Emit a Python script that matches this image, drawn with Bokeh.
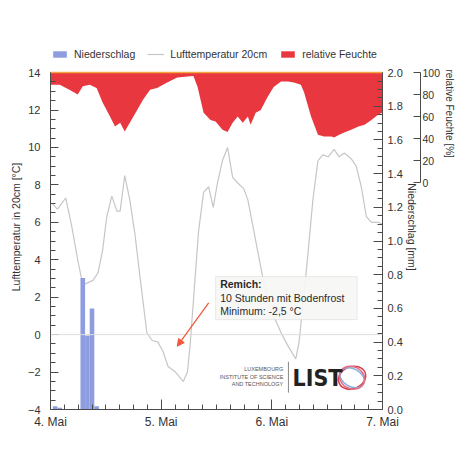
import math
from bokeh.plotting import figure
from bokeh.models import (Range1d, LinearAxis, FixedTicker, Span, Label, BoxAnnotation,
                          Arrow, NormalHead, Legend, LegendItem, PrintfTickFormatter, Title)
from bokeh.embed import file_html
from bokeh.resources import INLINE

# ---------------- data ----------------
# hours since 4. Mai 00:00
temp_hours = [0.4, 1.5, 3.3, 4.6, 5.9, 6.8, 7.4, 9.2, 10.3, 11.3, 12.2, 13.3, 14.4, 15.1, 16.1,
              17.2, 18.3, 19.4, 20.9, 22.0, 23.3, 24.4, 25.5, 27.1, 28.1, 28.8, 29.7, 30.3,
              31.2, 32.1, 33.2, 34.3, 35.3, 36.2, 37.3, 38.4, 39.5, 40.6, 41.9, 42.8, 43.9,
              44.9, 46.0, 47.7, 48.4, 50.0, 51.5, 53.2, 53.9, 55.0, 55.9, 56.9, 58.0, 59.1,
              60.2, 61.5, 62.6, 63.7, 65.2, 66.3, 67.4, 68.5, 69.6, 71.1, 72.0]
temp_values = [7.0, 6.7, 7.3, 5.8, 4.0, 2.9, 2.7, 2.9, 3.3, 4.5, 6.3, 7.4, 6.6, 6.6, 8.5,
               7.2, 5.4, 3.1, 0.1, -0.3, -0.4, -0.9, -1.7, -2.0, -2.3, -2.5, -2.0, -0.5,
               2.5, 5.5, 7.6, 7.9, 6.8, 8.1, 9.3, 10.0, 8.4, 8.1, 7.8, 7.2, 5.8,
               4.5, 3.1, 1.3, 1.0, 0.1, -0.6, -1.3, -0.4, 2.2, 4.5, 7.2, 9.3, 9.6,
               9.5, 9.9, 9.5, 9.7, 9.4, 9.0, 7.9, 6.3, 6.0, 6.0, 5.9]

precip_hours = [1, 2, 7, 8, 9, 10]
precip_mm = [0.02, 0.01, 0.78, 0.44, 0.60, 0.02]

hum_hours = [0.0, 2.0, 4.1, 5.9, 7.0, 8.5, 10.0, 11.3, 12.9, 14.0, 15.1, 16.1, 17.2, 18.8,
             20.1, 21.6, 23.1, 25.3, 27.5, 29.7, 31.0, 31.9, 33.2, 34.7, 35.8, 37.3, 38.4,
             39.5, 40.6, 41.7, 42.8, 43.4, 44.5, 45.6, 47.1, 48.4, 50.0, 51.5, 52.8, 54.3,
             55.0, 56.5, 58.0, 59.3, 60.9, 61.5, 62.6, 63.7, 65.2, 66.8, 68.1, 69.6, 71.1, 72.0]
hum_values = [89, 89, 84.5, 80, 87.5, 89, 86, 72.7, 60, 51, 54.5, 46.4, 54.5, 66,
              75.5, 84.5, 86, 91, 95.5, 96.4, 97, 87, 63.6, 57, 55.5, 48, 46,
              54.5, 60, 54.5, 60, 52.7, 63.6, 66, 78, 87, 92, 92, 91, 89,
              82, 60, 43.6, 42, 42, 41, 43.6, 45.5, 48, 51, 52.7, 57, 62, 63.6]

day_ticks = [0, 24, 48, 72]
day_labels = ["4. Mai", "5. Mai", "6. Mai", "7. Mai"]
temp_ticks = [-4, -2, 0, 2, 4, 6, 8, 10, 12, 14]
rain_ticks = [0.0, 0.2, 0.4, 0.6, 0.8, 1.0, 1.2, 1.4, 1.6, 1.8, 2.0]
hum_ticks = [0, 20, 40, 60, 80, 100]

FONT = "Liberation Sans"
AX = "#4a4a4a"
TXT = "#333333"

# frame extends 1.5 °C above the 14 °C axis top to hold the legend
T_TOP = 15.5
RAIN_TOP = 2.0 * (T_TOP + 4) / 18.0
HUM_PER_T = 100 / 5.88
HUM_BOTTOM = (-4 - 8.12) * HUM_PER_T
HUM_TOP = 100 + (T_TOP - 14) * HUM_PER_T

p = figure(width=462, height=466, x_range=Range1d(0, 72), y_range=Range1d(-4, T_TOP),
           output_backend="svg", toolbar_location=None,
           min_border_left=50, min_border_right=80, min_border_top=44, min_border_bottom=57)
p.extra_y_ranges = {"rain": Range1d(0, RAIN_TOP), "hum": Range1d(HUM_BOTTOM, HUM_TOP)}
p.xgrid.visible = False
p.ygrid.visible = False
p.outline_line_color = None

# glyphs
hum_r = p.varea(x=hum_hours, y1=hum_values, y2=100, y_range_name="hum",
                fill_color="#e9373f")
p.add_layout(Span(location=14, dimension="width", line_color="#f2a640", line_width=1.5))
p.add_layout(Span(location=0, dimension="width", line_color="#dedede", line_width=1))
temp_r = p.line(temp_hours, temp_values, line_color="#c6c6c6", line_width=1.2)
rain_r = p.vbar(x=precip_hours, top=precip_mm, bottom=0, width=1.0, y_range_name="rain",
                fill_color="#8e9ce0", line_color=None)


def style(ax, size="11px"):
    ax.axis_line_color = AX
    ax.major_tick_line_color = AX
    ax.minor_tick_line_color = AX
    ax.major_label_text_font = FONT
    ax.major_label_text_font_size = size
    ax.major_label_text_color = TXT
    ax.axis_label_text_font = FONT
    ax.axis_label_text_font_style = "normal"
    ax.axis_label_text_color = TXT
    ax.major_tick_out = 0
    ax.minor_tick_out = 0


# x axis
xa = p.xaxis[0]
style(xa, "12px")
xa.ticker = FixedTicker(ticks=day_ticks, minor_ticks=list(range(0, 73, 3)))
xa.major_label_overrides = {t: l for t, l in zip(day_ticks, day_labels)}
xa.major_tick_in = 10
xa.minor_tick_in = 5
xa.major_label_standoff = 5

# left axis
ya = p.yaxis[0]
style(ya)
ya.bounds = (-4, 14)
ya.ticker = FixedTicker(ticks=temp_ticks, minor_ticks=[-4 + 0.5 * i for i in range(37)])
ya.major_tick_in = 8
ya.minor_tick_in = 5
ya.major_label_standoff = 10
ya.axis_label = "Lufttemperatur in 20cm [°C]"
ya.axis_label_text_font_size = "10.5px"
ya.axis_label_standoff = 3

# right axes
ra = LinearAxis(y_range_name="rain", bounds=(0, 2))
style(ra)
ra.ticker = FixedTicker(ticks=rain_ticks, minor_ticks=[0.05 * i for i in range(41)])
ra.formatter = PrintfTickFormatter(format="%.1f")
ra.major_tick_in = 9
ra.minor_tick_in = 5
ra.major_label_standoff = 5
ra.axis_label = "Niederschlag [mm]"
ra.axis_label_text_font_size = "10.5px"
ra.axis_label_standoff = 0
p.add_layout(ra, "right")

ha = LinearAxis(y_range_name="hum", bounds=(0, 100))
style(ha, "10.5px")
ha.ticker = FixedTicker(ticks=hum_ticks, minor_ticks=[])
ha.major_tick_in = 7
ha.major_label_standoff = 2
p.add_layout(ha, "right")

p.add_layout(Title(text="relative Feuchte [%]", align="left", text_font=FONT,
                   text_font_size="10px", text_font_style="normal", text_color=TXT,
                   standoff=0, offset=25), "right")

# legend (inside the extended frame, above the 14 °C line)
legend = Legend(items=[LegendItem(label="Niederschlag", renderers=[rain_r]),
                       LegendItem(label="Lufttemperatur 20cm", renderers=[temp_r]),
                       LegendItem(label="relative Feuchte", renderers=[hum_r])],
                orientation="horizontal", location=(1, 349), padding=0, margin=0,
                spacing=12, label_standoff=6, glyph_width=17, glyph_height=8,
                label_text_font=FONT, label_text_font_size="10.5px", label_text_color=TXT,
                background_fill_alpha=0, border_line_color=None)
p.add_layout(legend)

# annotation box
p.add_layout(BoxAnnotation(left=35.8, right=66.5, top=3.1, bottom=0.8,
                           fill_color="#f6f6f4", fill_alpha=0.92,
                           line_color="#c4c4c4", line_width=1))
for txt, yy, st in [("Remich:", 2.72, "bold"), ("10 Stunden mit Bodenfrost", 1.98, "normal"),
                    ("Minimum: -2,5 °C", 1.28, "normal")]:
    p.add_layout(Label(x=36.8, y=yy, text=txt, text_font=FONT, text_font_size="10.5px",
                       text_font_style=st, text_color="#2a2a2a", text_baseline="middle"))
p.add_layout(Arrow(end=NormalHead(size=7, fill_color="#ef5a3a", line_color="#ef5a3a"),
                   x_start=34.3, y_start=1.7, x_end=27.5, y_end=-0.62,
                   line_color="#ef5a3a", line_width=1.3))

# LIST logo
for txt, yy in [("LUXEMBOURG", -1.85), ("INSTITUTE OF SCIENCE", -2.25), ("AND TECHNOLOGY", -2.65)]:
    p.add_layout(Label(x=50.5, y=yy, text=txt, text_font=FONT, text_font_size="5.5px",
                       text_color="#555555", text_align="right", text_baseline="middle"))
p.segment(x0=[51.6], y0=[-1.45], x1=[51.6], y1=[-3.1], line_color="#888888", line_width=1)
p.add_layout(Label(x=52.5, y=-2.3, text="LIST", text_font="DejaVu Sans Condensed",
                   text_font_size="23px", text_font_style="bold", text_color="#222222",
                   text_baseline="middle"))
p.ellipse(x=[65.4, 65.4, 65.4], y=[-2.3, -2.3, -2.3], width=[28, 26, 22], height=[22, 18, 26],
          width_units="screen", height_units="screen", angle=[0.4, -0.5, 1.1],
          fill_color=None, line_color=["#d8404f", "#86aee0", "#e07080"], line_width=1.5)

open("out.html", "w").write(file_html(p, INLINE))
